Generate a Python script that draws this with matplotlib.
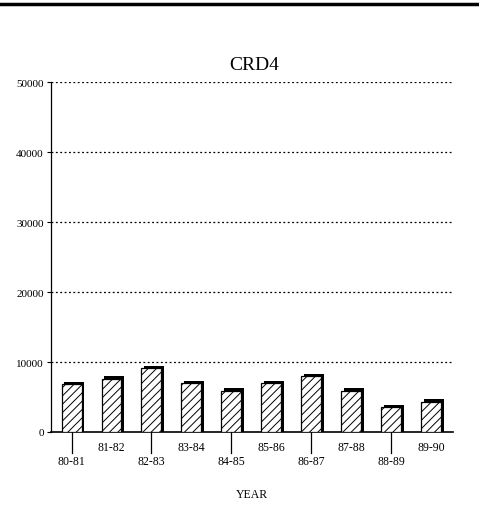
import numpy as np
import matplotlib.pyplot as plt
from matplotlib.lines import Line2D

# Data
years = ['80-81', '81-82', '82-83', '83-84', '84-85',
         '85-86', '86-87', '87-88', '88-89', '89-90']
values = [6800, 7600, 9100, 7000, 5900, 7000, 8000, 5900, 3500, 4300]
yticks = [0, 10000, 20000, 30000, 40000, 50000]

plt.rcParams['font.family'] = ['Liberation Serif', 'DejaVu Serif']
plt.rcParams['hatch.color'] = '#707070'
plt.rcParams['hatch.linewidth'] = 0.7

fig = plt.figure(figsize=(4.79, 5.10), dpi=100)
ax = fig.add_axes([0.106, 0.151, 0.840, 0.686])

x = np.arange(len(years))
# black drop shadow behind each bar
ax.bar(x + 0.07, np.array(values) + 350, width=0.5, color='black', zorder=2)
ax.bar(x, values, width=0.5, color='white', edgecolor='black',
       linewidth=0.9, hatch='////', zorder=3)

ax.set_xlim(-0.52, 9.55)
ax.set_ylim(0, 50000)
ax.set_yticks(yticks)
ax.set_yticklabels([str(v) for v in yticks], fontsize=8)
for v in yticks[1:]:
    ax.axhline(v, color='black', linestyle=(0, (1.5, 2)), linewidth=0.9, zorder=1)

for side in ['top', 'right']:
    ax.spines[side].set_visible(False)
ax.spines['left'].set_linewidth(0.9)
ax.spines['bottom'].set_linewidth(1.2)
ax.tick_params(axis='y', length=3, width=0.8, pad=2)

# staggered category labels
ax.set_xticks(x)
ax.set_xticklabels([])
ax.tick_params(axis='x', length=0)
for i, lab in enumerate(years):
    if i % 2 == 0:
        ax.plot([i, i], [0, -3000], color='black', linewidth=0.9, clip_on=False)
        ax.text(i, -3300, lab, ha='center', va='top', fontsize=8.5)
    else:
        ax.text(i, -1300, lab, ha='center', va='top', fontsize=8.5)

ax.text(0.5, -0.16, 'YEAR', transform=ax.transAxes, ha='center', va='top', fontsize=8.5)
fig.text(0.53, 0.872, 'CRD4', ha='center', va='center', fontsize=14)

# heavy rule at the top of the page
fig.add_artist(Line2D([0, 1], [0.99, 0.99], color='black', linewidth=2.5))

fig.savefig('out.png', dpi=100)
